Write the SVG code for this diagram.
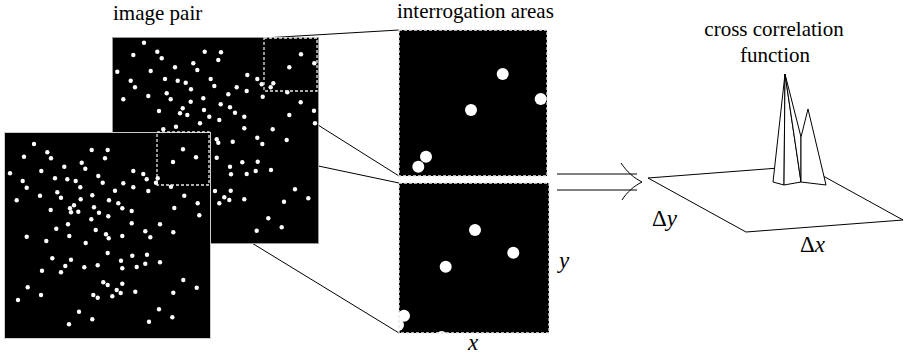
<svg xmlns="http://www.w3.org/2000/svg" width="905" height="356" viewBox="0 0 905 356">
<style>
.lbl{font-family:"Liberation Serif","Times New Roman",Times,serif;font-size:21px;fill:#000}
.math{font-family:"Liberation Serif","Times New Roman",Times,serif;font-size:23px;fill:#000}
.it{font-style:italic}
.img{fill:#000;stroke:#999;stroke-width:1}
.dash{fill:none;stroke:#e6e6e6;stroke-width:1.3;stroke-dasharray:3 2}
.dot{fill:#fff}
.con{stroke:#000;stroke-width:1;fill:none}
.face{fill:#fff;stroke:#000;stroke-width:1;stroke-linejoin:round}
</style>
<defs>
<clipPath id="c1"><rect x="399" y="30" width="148" height="146"/></clipPath>
<clipPath id="c2"><rect x="399" y="183" width="150" height="150"/></clipPath>
</defs>
<g id="connectors">
<line class="con" x1="264" y1="38" x2="399" y2="30"/>
<line class="con" x1="264" y1="91" x2="399" y2="176"/>
<line class="con" x1="157" y1="132" x2="399" y2="183"/>
<line class="con" x1="157" y1="185" x2="399" y2="333"/>
</g>
<g id="back-image">
<rect class="img" x="112.5" y="37.5" width="206" height="206"/>
<g class="dot">
<circle cx="144" cy="42.7" r="2.2"/><circle cx="133.3" cy="55" r="2.2"/><circle cx="157.3" cy="51.7" r="2.2"/><circle cx="161.7" cy="58.3" r="2.2"/><circle cx="204.7" cy="51.7" r="2.2"/><circle cx="221" cy="52.3" r="2.2"/><circle cx="218.3" cy="60" r="2.2"/><circle cx="193.3" cy="63.3" r="2.2"/><circle cx="197.3" cy="70" r="2.2"/><circle cx="175" cy="67.3" r="2.2"/><circle cx="117.3" cy="71.7" r="2.2"/><circle cx="150.7" cy="71" r="2.2"/><circle cx="130.7" cy="80.7" r="2.2"/><circle cx="135" cy="87.3" r="2.2"/><circle cx="165" cy="79" r="2.2"/><circle cx="177.7" cy="80.7" r="2.2"/><circle cx="185.7" cy="82.7" r="2.2"/><circle cx="191" cy="89.3" r="2.2"/><circle cx="210.7" cy="79" r="2.2"/><circle cx="214.3" cy="86" r="2.2"/><circle cx="247.3" cy="75" r="2.2"/><circle cx="257.3" cy="79" r="2.2"/><circle cx="261.7" cy="84.3" r="2.2"/><circle cx="273.3" cy="83.3" r="2.2"/><circle cx="270.7" cy="87.3" r="2.2"/><circle cx="236.7" cy="87.3" r="2.2"/><circle cx="246.7" cy="91" r="2.2"/><circle cx="262.7" cy="96.7" r="2.2"/><circle cx="287.3" cy="92.3" r="2.2"/><circle cx="301" cy="54.3" r="2.2"/><circle cx="289.3" cy="67.3" r="2.2"/><circle cx="314.3" cy="63.3" r="2.2"/><circle cx="300.7" cy="102.3" r="2.2"/><circle cx="314" cy="110.7" r="2.2"/><circle cx="289.3" cy="115" r="2.2"/><circle cx="315" cy="123.3" r="2.2"/><circle cx="123.3" cy="99.3" r="2.2"/><circle cx="148.3" cy="96" r="2.2"/><circle cx="166.7" cy="93.3" r="2.2"/><circle cx="170.7" cy="99.3" r="2.2"/><circle cx="190.7" cy="101.7" r="2.2"/><circle cx="203.3" cy="98.3" r="2.2"/><circle cx="228.3" cy="94.3" r="2.2"/><circle cx="220.7" cy="104.3" r="2.2"/><circle cx="230" cy="107.3" r="2.2"/><circle cx="235" cy="112.7" r="2.2"/><circle cx="244.3" cy="116.7" r="2.2"/><circle cx="219.3" cy="120" r="2.2"/><circle cx="209.3" cy="116.7" r="2.2"/><circle cx="204" cy="110" r="2.2"/><circle cx="200" cy="123.3" r="2.2"/><circle cx="182.7" cy="108.3" r="2.2"/><circle cx="180" cy="113.3" r="2.2"/><circle cx="187.3" cy="115" r="2.2"/><circle cx="159" cy="111" r="2.2"/><circle cx="176" cy="126.7" r="2.2"/><circle cx="163.3" cy="129.3" r="2.2"/><circle cx="244.3" cy="128.3" r="2.2"/><circle cx="272.7" cy="129.3" r="2.2"/>
<circle cx="216.7" cy="139.3" r="2.2"/><circle cx="218.3" cy="142.7" r="2.2"/><circle cx="232.7" cy="141.7" r="2.2"/><circle cx="257.3" cy="137.7" r="2.2"/><circle cx="262.3" cy="144" r="2.2"/><circle cx="286.7" cy="140" r="2.2"/><circle cx="216.7" cy="157.7" r="2.2"/><circle cx="230" cy="166.7" r="2.2"/><circle cx="242.3" cy="162.3" r="2.2"/><circle cx="257.7" cy="161.7" r="2.2"/><circle cx="231" cy="174.3" r="2.2"/><circle cx="246.7" cy="174" r="2.2"/><circle cx="255.7" cy="171" r="2.2"/><circle cx="271" cy="170" r="2.2"/><circle cx="295" cy="189.3" r="2.2"/><circle cx="308.3" cy="198.3" r="2.2"/><circle cx="284" cy="201.7" r="2.2"/><circle cx="244.3" cy="199.3" r="2.2"/><circle cx="215" cy="191" r="2.2"/><circle cx="230.7" cy="190.7" r="2.2"/><circle cx="224.3" cy="197.3" r="2.2"/><circle cx="229.3" cy="200" r="2.2"/><circle cx="219.3" cy="203.3" r="2.2"/><circle cx="268.3" cy="218.3" r="2.2"/><circle cx="281.7" cy="227.3" r="2.2"/><circle cx="256.7" cy="230.7" r="2.2"/>
</g>
<rect class="dash" x="264" y="38" width="53" height="53"/>
</g>
<g id="front-image">
<rect class="img" x="4.5" y="132.5" width="206" height="206" style="stroke:#ccc"/>
<g class="dot">
<circle cx="34" cy="144" r="2.2"/><circle cx="24" cy="156.7" r="2.2"/><circle cx="47.3" cy="152.3" r="2.2"/><circle cx="51" cy="158.3" r="2.2"/><circle cx="91.7" cy="150" r="2.2"/><circle cx="107.7" cy="150" r="2.2"/><circle cx="105" cy="158.3" r="2.2"/><circle cx="64.3" cy="166.7" r="2.2"/><circle cx="81.7" cy="162.7" r="2.2"/><circle cx="85.3" cy="168.7" r="2.2"/><circle cx="10" cy="173.3" r="2.2"/><circle cx="41.3" cy="171" r="2.2"/><circle cx="22.7" cy="181" r="2.2"/><circle cx="26.7" cy="187.7" r="2.2"/><circle cx="55" cy="178.3" r="2.2"/><circle cx="67.3" cy="179.3" r="2.2"/><circle cx="75.7" cy="181" r="2.2"/><circle cx="80.3" cy="187.3" r="2.2"/><circle cx="98.3" cy="176" r="2.2"/><circle cx="102.7" cy="182.7" r="2.2"/><circle cx="133.3" cy="171" r="2.2"/><circle cx="143.3" cy="174" r="2.2"/><circle cx="146.7" cy="179.3" r="2.2"/><circle cx="156" cy="182.7" r="2.2"/><circle cx="157.7" cy="178.3" r="2.2"/><circle cx="123.3" cy="183.3" r="2.2"/><circle cx="133.3" cy="187.3" r="2.2"/><circle cx="115" cy="190.7" r="2.2"/><circle cx="148.3" cy="191" r="2.2"/><circle cx="171" cy="186.7" r="2.2"/><circle cx="183" cy="149.3" r="2.2"/><circle cx="173" cy="162" r="2.2"/><circle cx="196" cy="157.3" r="2.2"/><circle cx="16.7" cy="200.3" r="2.2"/><circle cx="40" cy="195.7" r="2.2"/><circle cx="57.3" cy="192.3" r="2.2"/><circle cx="61" cy="197.7" r="2.2"/><circle cx="80.7" cy="199.3" r="2.2"/><circle cx="92.3" cy="195.3" r="2.2"/><circle cx="109" cy="200.3" r="2.2"/><circle cx="118.3" cy="203.3" r="2.2"/><circle cx="122.3" cy="208.3" r="2.2"/><circle cx="131.7" cy="211" r="2.2"/><circle cx="50.7" cy="210" r="2.2"/><circle cx="70" cy="208.3" r="2.2"/><circle cx="71" cy="212.3" r="2.2"/><circle cx="74" cy="205.3" r="2.2"/><circle cx="78.3" cy="211.7" r="2.2"/><circle cx="94" cy="207.3" r="2.2"/><circle cx="99" cy="212.7" r="2.2"/><circle cx="108.3" cy="216.3" r="2.2"/><circle cx="91.3" cy="219.3" r="2.2"/><circle cx="131.7" cy="223.3" r="2.2"/><circle cx="160" cy="224.3" r="2.2"/><circle cx="173.3" cy="232.3" r="2.2"/><circle cx="184.3" cy="195.7" r="2.2"/><circle cx="197.7" cy="203.3" r="2.2"/><circle cx="174.3" cy="208" r="2.2"/><circle cx="199.3" cy="215.3" r="2.2"/><circle cx="68" cy="224.3" r="2.2"/><circle cx="56.3" cy="228.7" r="2.2"/><circle cx="95.7" cy="230" r="2.2"/><circle cx="106" cy="234.3" r="2.2"/><circle cx="108.7" cy="238.3" r="2.2"/><circle cx="69.3" cy="236" r="2.2"/><circle cx="26.7" cy="236.7" r="2.2"/><circle cx="46.3" cy="241" r="2.2"/><circle cx="85.7" cy="243" r="2.2"/><circle cx="122.3" cy="236" r="2.2"/><circle cx="145.3" cy="231.3" r="2.2"/><circle cx="150.3" cy="237.3" r="2.2"/>
<circle cx="52.3" cy="258.3" r="2.2"/><circle cx="71" cy="259.7" r="2.2"/><circle cx="65.3" cy="266" r="2.2"/><circle cx="61" cy="272.3" r="2.2"/><circle cx="42" cy="270.7" r="2.2"/><circle cx="84.3" cy="267.3" r="2.2"/><circle cx="97.7" cy="265.3" r="2.2"/><circle cx="107.7" cy="253" r="2.2"/><circle cx="121" cy="260.7" r="2.2"/><circle cx="122.3" cy="268.3" r="2.2"/><circle cx="132.3" cy="255.7" r="2.2"/><circle cx="136.7" cy="267" r="2.2"/><circle cx="145.3" cy="263.7" r="2.2"/><circle cx="147" cy="254.7" r="2.2"/><circle cx="160" cy="262.3" r="2.2"/><circle cx="183.3" cy="280" r="2.2"/><circle cx="196.7" cy="287.7" r="2.2"/><circle cx="173.3" cy="292.7" r="2.2"/><circle cx="27.7" cy="287.3" r="2.2"/><circle cx="41" cy="295" r="2.2"/><circle cx="18" cy="300" r="2.2"/><circle cx="103.3" cy="282.3" r="2.2"/><circle cx="107.7" cy="285" r="2.2"/><circle cx="122.3" cy="283.7" r="2.2"/><circle cx="116.7" cy="290" r="2.2"/><circle cx="120.7" cy="293" r="2.2"/><circle cx="112.3" cy="296.3" r="2.2"/><circle cx="93.3" cy="295" r="2.2"/><circle cx="97.7" cy="297.7" r="2.2"/><circle cx="135.3" cy="291.7" r="2.2"/><circle cx="79" cy="311.7" r="2.2"/><circle cx="92.3" cy="319.3" r="2.2"/><circle cx="69" cy="324.3" r="2.2"/><circle cx="149" cy="321.7" r="2.2"/><circle cx="159" cy="309.3" r="2.2"/><circle cx="172.3" cy="317.3" r="2.2"/>
</g>
<rect class="dash" x="157" y="132" width="52" height="53"/>
</g>
<g id="area-top">
<rect x="399" y="30" width="148" height="146" fill="#000"/>
<g class="dot" clip-path="url(#c1)">
<circle cx="502.7" cy="74" r="6"/><circle cx="540.7" cy="99" r="6"/><circle cx="471" cy="110" r="6"/><circle cx="426" cy="156.7" r="6"/><circle cx="418.3" cy="166.7" r="6"/>
</g>
<rect class="dash" x="399" y="30" width="148" height="146"/>
</g>
<g id="area-bottom">
<rect x="399" y="183" width="150" height="150" fill="#000"/>
<g class="dot" clip-path="url(#c2)">
<circle cx="475" cy="230" r="6"/><circle cx="513.3" cy="252.7" r="6"/><circle cx="445.7" cy="266.7" r="6"/><circle cx="404" cy="315.7" r="6"/><circle cx="398" cy="325" r="6"/><circle cx="441.7" cy="337" r="6"/>
</g>
<rect class="dash" x="399" y="183" width="150" height="150"/>
</g>
<g id="implies">
<line class="con" x1="557" y1="174" x2="637" y2="174" stroke-width="1.2"/>
<line class="con" x1="557" y1="190" x2="637" y2="190" stroke-width="1.2"/>
<path class="con" stroke-width="1.2" d="M621,163 C627,172 634,178 642,182 C634,186 627,192 622,200"/>
</g>
<g id="correlation">
<polygon class="face" points="648,178 805,166 903,220 746,232"/>
<polygon class="face" points="773,182 785,74 784,185"/>
<polygon class="face" points="784,185 785,74 801,182"/>
<polygon class="face" points="801,182 785,74 801,137"/>
<polygon class="face" points="801,182 801,137 808,109 826,185"/>
</g>
<g id="labels">
<text class="lbl" x="113" y="20" font-family="Liberation Serif, serif">image pair</text>
<text class="lbl" x="397" y="18" font-family="Liberation Serif, serif">interrogation areas</text>
<text class="lbl" x="774" y="36" text-anchor="middle" font-family="Liberation Serif, serif">cross correlation</text>
<text class="lbl" x="775" y="62" text-anchor="middle" font-family="Liberation Serif, serif">function</text>
<text class="math it" x="559" y="268">y</text>
<text class="math it" x="468" y="350">x</text>
<text class="math" x="652" y="226">Δ<tspan class="it">y</tspan></text>
<text class="math" x="800" y="252">Δ<tspan class="it">x</tspan></text>
</g>
</svg>
